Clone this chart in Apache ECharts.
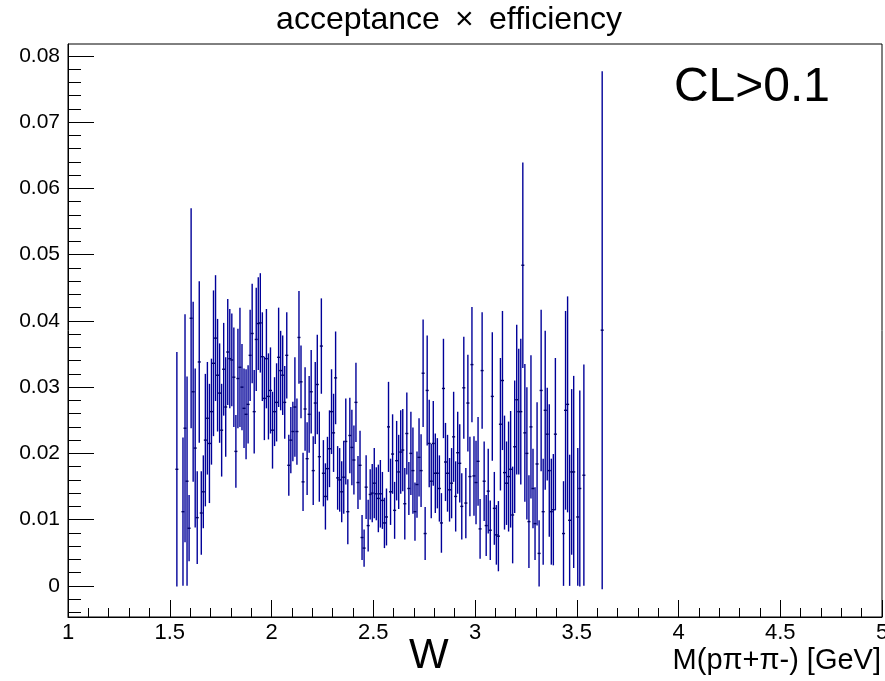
<!DOCTYPE html>
<html>
<head>
<meta charset="utf-8">
<script src="https://cdn.jsdelivr.net/npm/echarts@6/dist/echarts.min.js"></script>
<style>
  html, body { margin: 0; padding: 0; background: #fff; }
  #chart { width: 885px; height: 681px; }
</style>
</head>
<body>
<div id="chart"></div>
<script>
// Histogram binning: M(p pi+ pi-) from 1.53 GeV, bin width 0.01 GeV
const firstBinLow = 1.53;
const binWidth = 0.01;

// acceptance x efficiency per bin (null = empty bin)
const acceptance = [
  0.0176, null, null, 0.0112, 0.0238, 0.0158, 0.0087, 0.0404, 0.0293, 0.0208,
  0.0103, 0.0338, 0.0110, 0.0142, 0.0220, 0.0253, 0.0215, 0.0263, 0.0336, 0.0374,
  0.0318, 0.0291, 0.0235, 0.0327, 0.0270, 0.0353, 0.0343, 0.0341, 0.0315, 0.0203,
  0.0313, 0.0330, 0.0300, 0.0268, 0.0259, 0.0274, 0.0348, 0.0381, 0.0263, 0.0372,
  0.0396, 0.0397, 0.0346, 0.0283, 0.0343, 0.0286, 0.0295, 0.0235, 0.0263, 0.0277,
  0.0345, 0.0325, 0.0318, 0.0277, 0.0348, 0.0182, 0.0220, 0.0233, 0.0270, 0.0233,
  0.0375, 0.0308, 0.0157, 0.0267, 0.0192, 0.0259, 0.0293, 0.0174, 0.0276, 0.0304,
  0.0195, 0.0362, 0.0170, 0.0135, 0.0177, 0.0207, 0.0263, 0.0231, 0.0314, 0.0163,
  0.0160, 0.0142, 0.0164, 0.0218, 0.0112, 0.0227, 0.0209, 0.0190, 0.0277, 0.0156,
  0.0182, 0.0073, 0.0057, 0.0149, 0.0091, 0.0138, 0.0140, 0.0155, 0.0139, 0.0132,
  0.0139, 0.0129, 0.0095, 0.0104, 0.0240, 0.0142, 0.0199, 0.0114, 0.0189, 0.0172,
  0.0202, 0.0205, 0.0124, 0.0230, 0.0147, 0.0200, 0.0174, 0.0112, 0.0153, 0.0194,
  0.0174, 0.0321, 0.0079, 0.0295, 0.0215, 0.0158, 0.0215, 0.0170, 0.0170, 0.0147,
  0.0095, 0.0298, 0.0187, 0.0170, 0.0145, 0.0155, 0.0225, 0.0135, 0.0201, 0.0185,
  0.0120, 0.0299, 0.0125, 0.0276, 0.0165, 0.0334, 0.0166, 0.0156, 0.0188, 0.0086,
  0.0325, 0.0158, 0.0091, 0.0143, 0.0084, 0.0286, 0.0117, 0.0077, 0.0075, 0.0244,
  0.0310, 0.0171, 0.0155, 0.0165, 0.0176, 0.0107, 0.0210, 0.0281, 0.0263, 0.0263,
  0.0484, 0.0231, 0.0200, 0.0097, 0.0240, 0.0147, 0.0094, 0.0184, 0.0049, 0.0295,
  0.0112, 0.0265, 0.0229, 0.0174, 0.0112, 0.0115, 0.0229, null, null, null,
  0.0079, 0.0265, 0.0274, 0.0099, 0.0172, 0.0172, null, 0.0104, 0.0147, null,
  0.0167, null, null, null, null, null, null, null, null, 0.0386
];

// statistical error per bin
const errors = [
  0.0177, null, null, 0.0112, 0.0172, 0.0158, 0.0050, 0.0166, 0.0136, 0.0120,
  0.0070, 0.0122, 0.0063, 0.0055, 0.0100, 0.0085, 0.0090, 0.0080, 0.0110, 0.0095,
  0.0085, 0.0075, 0.0070, 0.0070, 0.0075, 0.0080, 0.0075, 0.0070, 0.0075, 0.0055,
  0.0075, 0.0090, 0.0065, 0.0060, 0.0068, 0.0059, 0.0069, 0.0075, 0.0063, 0.0078,
  0.0070, 0.0075, 0.0067, 0.0063, 0.0075, 0.0065, 0.0065, 0.0058, 0.0052, 0.0059,
  0.0075, 0.0060, 0.0060, 0.0055, 0.0065, 0.0046, 0.0050, 0.0045, 0.0075, 0.0050,
  0.0070, 0.0055, 0.0044, 0.0063, 0.0055, 0.0058, 0.0063, 0.0052, 0.0062, 0.0075,
  0.0068, 0.0072, 0.0050, 0.0050, 0.0048, 0.0058, 0.0064, 0.0059, 0.0070, 0.0048,
  0.0048, 0.0046, 0.0055, 0.0065, 0.0049, 0.0057, 0.0057, 0.0052, 0.0060, 0.0040,
  0.0052, 0.0034, 0.0028, 0.0048, 0.0039, 0.0038, 0.0044, 0.0053, 0.0040, 0.0051,
  0.0051, 0.0043, 0.0038, 0.0043, 0.0068, 0.0050, 0.0060, 0.0043, 0.0060, 0.0056,
  0.0063, 0.0062, 0.0054, 0.0062, 0.0040, 0.0063, 0.0065, 0.0044, 0.0050, 0.0059,
  0.0055, 0.0081, 0.0040, 0.0083, 0.0066, 0.0056, 0.0064, 0.0060, 0.0053, 0.0050,
  0.0045, 0.0075, 0.0059, 0.0058, 0.0048, 0.0053, 0.0068, 0.0053, 0.0062, 0.0059,
  0.0050, 0.0077, 0.0053, 0.0073, 0.0060, 0.0087, 0.0060, 0.0063, 0.0067, 0.0045,
  0.0088, 0.0060, 0.0046, 0.0064, 0.0045, 0.0097, 0.0055, 0.0045, 0.0053, 0.0100,
  0.0105, 0.0086, 0.0063, 0.0083, 0.0088, 0.0073, 0.0100, 0.0113, 0.0095, 0.0110,
  0.0155, 0.0104, 0.0100, 0.0070, 0.0108, 0.0060, 0.0055, 0.0093, 0.0050, 0.0122,
  0.0080, 0.0120, 0.0070, 0.0100, 0.0080, 0.0084, 0.0115, null, null, null,
  0.0079, 0.0150, 0.0163, 0.0099, 0.0125, 0.0145, null, 0.0104, 0.0148, null,
  0.0167, null, null, null, null, null, null, null, null, 0.0391
];

// axis ticks / labels
const xMajorTicks = [1, 1.5, 2, 2.5, 3, 3.5, 4, 4.5, 5];
const xTickLabels = ['1', '1.5', '2', '2.5', '3', '3.5', '4', '4.5', '5'];
const yMajorTicks = [0, 0.01, 0.02, 0.03, 0.04, 0.05, 0.06, 0.07, 0.08];
const yTickLabels = ['0', '0.01', '0.02', '0.03', '0.04', '0.05', '0.06', '0.07', '0.08'];

const titleText = 'acceptance \u2009\u00d7\u2009 efficiency';
const xAxisTitle = 'M(p\u03c0+\u03c0-) [GeV]';
const wLabel = 'W';
const cutLabel = 'CL>0.1';

// ---- build ----
const X_MIN = 1, X_MAX = 5, Y_MIN = -0.0047, Y_MAX = 0.0818;
const xMinorTicks = [];
for (let i = 0; i <= 40; i++) { if (i % 5 !== 0) xMinorTicks.push(+(1 + i * 0.1).toFixed(2)); }
const yMinorTicks = [];
for (let i = -2; i <= 40; i++) { if (i % 5 !== 0) yMinorTicks.push(+(i * 0.002).toFixed(4)); }

const points = [];
acceptance.forEach((v, k) => {
  if (v === null) return;
  const center = +(firstBinLow + binWidth * (k + 0.5)).toFixed(4);
  points.push([center, v, errors[k]]);
});

const FONT = '"Liberation Sans", Arial, Helvetica, sans-serif';
const BLUE = '#000099';

const labelFromList = (ticks, labels) => (val) => {
  for (let i = 0; i < ticks.length; i++) if (Math.abs(ticks[i] - val) < 1e-9) return labels[i];
  return '';
};

const chart = echarts.init(document.getElementById('chart'), null, { renderer: 'canvas' });
chart.setOption({
  animation: false,
  backgroundColor: '#fff',
  grid: { left: 68, right: 3, top: 44, bottom: 64, show: true, borderColor: '#000', borderWidth: 1, backgroundColor: 'transparent', containLabel: false, outerBoundsMode: 'none' },
  xAxis: [
    {
      type: 'value', min: X_MIN, max: X_MAX, position: 'bottom',
      axisLine: { show: true, onZero: false, lineStyle: { color: '#000', width: 1 } },
      axisTick: { show: true, inside: true, length: 17, customValues: xMajorTicks, lineStyle: { color: '#000', width: 1 } },
      axisLabel: { show: true, customValues: xMajorTicks, formatter: labelFromList(xMajorTicks, xTickLabels), color: '#000', fontSize: 22, fontFamily: FONT, margin: 5, hideOverlap: false },
      splitLine: { show: false }
    },
    {
      type: 'value', min: X_MIN, max: X_MAX, position: 'bottom',
      axisLine: { show: false, onZero: false },
      axisTick: { show: true, inside: true, length: 9, customValues: xMinorTicks, lineStyle: { color: '#000', width: 1 } },
      axisLabel: { show: false },
      splitLine: { show: false }
    }
  ],
  yAxis: [
    {
      type: 'value', min: Y_MIN, max: Y_MAX, position: 'left',
      axisLine: { show: true, onZero: false, lineStyle: { color: '#000', width: 1 } },
      axisTick: { show: true, inside: true, length: 26, customValues: yMajorTicks, lineStyle: { color: '#000', width: 1 } },
      axisLabel: { show: true, customValues: yMajorTicks, formatter: labelFromList(yMajorTicks, yTickLabels), color: '#000', fontSize: 21, fontFamily: FONT, margin: 8 },
      splitLine: { show: false }
    },
    {
      type: 'value', min: Y_MIN, max: Y_MAX, position: 'left',
      axisLine: { show: false, onZero: false },
      axisTick: { show: true, inside: true, length: 13, customValues: yMinorTicks, lineStyle: { color: '#000', width: 1 } },
      axisLabel: { show: false },
      splitLine: { show: false }
    }
  ],
  series: [{
    type: 'custom',
    xAxisIndex: 0, yAxisIndex: 0,
    clip: true,
    data: points,
    encode: { x: 0, y: 1 },
    emphasis: { disabled: true },
    renderItem: function (params, api) {
      const x = api.value(0), y = api.value(1), e = api.value(2);
      const top = api.coord([x, y + e]);
      const bot = api.coord([x, y - e]);
      const l = api.coord([x - binWidth / 2, y]);
      const r = api.coord([x + binWidth / 2, y]);
      return {
        type: 'group',
        children: [
          { type: 'line', silent: true, shape: { x1: top[0], y1: top[1], x2: bot[0], y2: bot[1] }, style: { stroke: BLUE, lineWidth: 1.4 } },
          { type: 'line', silent: true, shape: { x1: l[0] - 0.5, y1: l[1], x2: r[0] + 0.5, y2: r[1] }, style: { stroke: '#000066', lineWidth: 1.4 } }
        ]
      };
    }
  }],
  graphic: [
    { type: 'text', x: 449, y: 4, style: { text: titleText, font: '32px ' + FONT, fill: '#000', align: 'center' } },
    { type: 'text', right: 55, top: 64, style: { text: cutLabel, font: '48px ' + FONT, fill: '#000' } },
    { type: 'text', left: 409, top: 635, style: { text: wLabel, font: '42px ' + FONT, fill: '#000' } },
    { type: 'text', right: 4, top: 646, style: { text: xAxisTitle, font: '29px ' + FONT, fill: '#000' } }
  ]
});
</script>
</body>
</html>
